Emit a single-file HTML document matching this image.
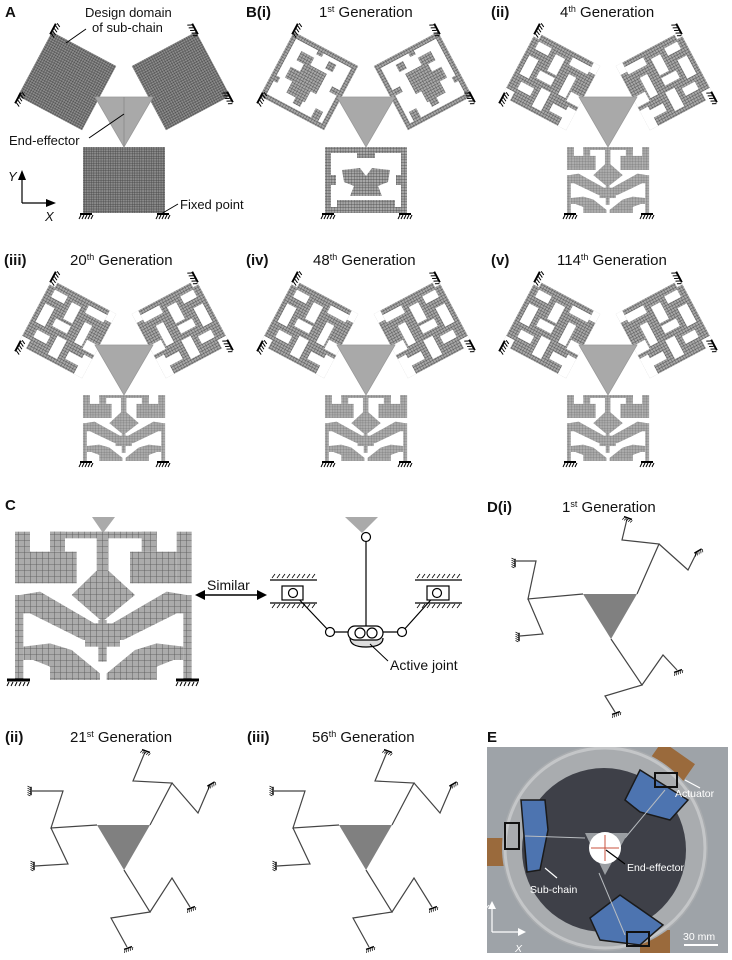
<!DOCTYPE html>
<html><head><meta charset="utf-8"><style>
html,body{margin:0;padding:0;background:#fff;}
svg{display:block;font-family:"Liberation Sans",Arial,sans-serif;}
.t{font-size:14px;fill:#111}
.b{font-weight:bold}
</style></head><body>
<svg width="732" height="960" viewBox="0 0 732 960" xmlns="http://www.w3.org/2000/svg">
<defs>
<pattern id="pA" patternUnits="userSpaceOnUse" width="2.4" height="2.4"><rect width="2.4" height="2.4" fill="#8a8a8a"/><path d="M0,0H2.4M0,0V2.4" stroke="#3a3a3a" stroke-width="0.7"/></pattern>
<pattern id="pM" patternUnits="userSpaceOnUse" width="2.8" height="2.8"><rect width="2.8" height="2.8" fill="#a6a6a6"/><path d="M0,0H2.8M0,0V2.8" stroke="#3a3a3a" stroke-width="0.6"/></pattern>
<pattern id="pC" patternUnits="userSpaceOnUse" width="18" height="18"><rect width="18" height="18" fill="#ababab"/><path d="M0,0H18M0,0V18" stroke="#555" stroke-width="2.6"/></pattern>
<g id="h"><line x1="-6" y1="0" x2="6" y2="0" stroke="#000" stroke-width="2"/><path d="M-5,1l-2,4M-2,1l-2,4M1,1l-2,4M4,1l-2,4M7,1l-2,4" stroke="#000" stroke-width="1"/></g>
<g id="cs" fill="url(#pC)">
<rect x="150" y="155" width="320" height="20"/><rect x="45" y="155" width="45" height="155"/><rect x="90" y="215" width="140" height="95"/><rect x="150" y="155" width="45" height="60"/>
<rect x="530" y="155" width="45" height="155"/><rect x="390" y="215" width="140" height="95"/><rect x="425" y="155" width="45" height="60"/>
<rect x="290" y="155" width="35" height="115"/><polygon points="307,255 405,345 307,425 215,345"/><rect x="295" y="420" width="25" height="125"/><rect x="255" y="430" width="105" height="70"/>
<polygon points="60,345 120,335 300,440 300,480 250,480 90,400 60,400"/><polygon points="560,345 500,335 320,440 320,480 370,480 530,400 560,400"/>
<rect x="45" y="345" width="25" height="255"/><rect x="550" y="345" width="25" height="255"/>
<polygon points="70,500 150,490 215,510 300,580 300,600 150,600 150,560 100,540 70,540"/><polygon points="550,500 470,490 405,510 320,580 320,600 470,600 470,560 520,540 550,540"/>
</g>
<g id="sqE"><rect x="-35" y="-35" width="70" height="70" fill="url(#pM)"/><rect x="-30" y="-30" width="60" height="60" fill="#fff"/>
<g fill="url(#pM)"><rect x="-20" y="-22" width="14" height="10"/><rect x="-12" y="-14" width="24" height="12"/><rect x="-22" y="-4" width="34" height="12"/><rect x="-14" y="8" width="20" height="12"/><rect x="8" y="-26" width="8" height="8"/><rect x="-6" y="-31" width="6" height="5"/><rect x="18" y="20" width="8" height="10"/><rect x="-31" y="10" width="5" height="6"/><rect x="22" y="-6" width="8" height="6"/><rect x="-4" y="18" width="8" height="8"/></g></g>
<g id="sqL"><rect x="-35" y="-35" width="70" height="70" fill="url(#pM)"/>
<g fill="#fff"><rect x="-28" y="-28" width="14" height="8"/><rect x="-8" y="-25" width="10" height="18"/><rect x="8" y="-30" width="20" height="8"/><rect x="-30" y="-12" width="10" height="20"/><rect x="-14" y="-4" width="16" height="8"/><rect x="12" y="-14" width="8" height="22"/><rect x="22" y="0" width="13" height="10"/><rect x="-25" y="14" width="14" height="8"/><rect x="-5" y="10" width="10" height="20"/><rect x="12" y="18" width="16" height="8"/><rect x="-35" y="26" width="9" height="9"/><rect x="28" y="-35" width="7" height="10"/><rect x="-35" y="-35" width="6" height="5"/><rect x="26" y="14" width="9" height="21"/></g></g>
<g id="tri"><polygon points="95,97 153,97 124,147" fill="#a9a9a9" stroke="#999" stroke-width="0.8"/></g>
<g id="anc">
<use href="#h" transform="translate(53,29) rotate(-62)"/><use href="#h" transform="translate(18,98) rotate(-62)"/>
<use href="#h" transform="translate(195,29) rotate(62)"/><use href="#h" transform="translate(230,97) rotate(62)"/>
<use href="#h" transform="translate(86,214)"/><use href="#h" transform="translate(163,214)"/></g>
<g id="mE"><g transform="translate(67,81) rotate(28) scale(1.04)"><use href="#sqE"/></g><g transform="translate(181,81) rotate(-28) scale(1.04) scale(-1,1)"><use href="#sqE"/></g>
<rect x="83" y="147" width="82" height="66" fill="url(#pM)"/><rect x="89" y="153" width="70" height="54" fill="#fff"/>
<g fill="url(#pM)"><polygon points="100,170 118,168 124,176 130,168 148,170 146,182 136,186 140,196 108,196 112,186 102,182"/><rect x="95" y="200" width="58" height="7"/><rect x="115" y="153" width="18" height="5"/><rect x="89" y="175" width="5" height="10"/><rect x="154" y="175" width="5" height="10"/></g>
<use href="#tri"/><use href="#anc"/></g>
<g id="mL"><g transform="translate(67,81) rotate(28) scale(1.04)"><use href="#sqL"/></g><g transform="translate(181,81) rotate(-28) scale(1.04) scale(-1,1)"><use href="#sqL"/></g>
<g transform="translate(76,124.06) scale(0.155,0.148)"><use href="#cs"/></g>
<use href="#tri"/><use href="#anc"/></g>
</defs>

<!-- Panel A -->
<text x="5" y="17" class="t b" style="font-size:15px">A</text>
<g transform="translate(67,81) rotate(28) scale(1.04)"><rect x="-35" y="-35" width="70" height="70" fill="url(#pA)"/></g>
<g transform="translate(181,81) rotate(-28) scale(1.04)"><rect x="-35" y="-35" width="70" height="70" fill="url(#pA)"/></g>
<rect x="83" y="147" width="82" height="66" fill="url(#pA)"/>
<use href="#tri"/><use href="#anc"/>
<line x1="124" y1="97" x2="124" y2="147" stroke="#777" stroke-width="0.5"/>
<text x="85" y="17" class="t" style="font-size:13px">Design domain</text>
<text x="92" y="32" class="t" style="font-size:13px">of sub-chain</text>
<line x1="66" y1="43" x2="86" y2="29" stroke="#000" stroke-width="1"/>
<text x="9" y="145" class="t" style="font-size:13px">End-effector</text>
<line x1="89" y1="138" x2="124" y2="114" stroke="#000" stroke-width="1"/>
<text x="180" y="209" class="t" style="font-size:13px">Fixed point</text>
<line x1="161" y1="214" x2="178" y2="204" stroke="#000" stroke-width="1"/>
<line x1="22" y1="203" x2="22" y2="178" stroke="#000" stroke-width="1.2"/><polygon points="22,170 18,180 26,180"/>
<line x1="22" y1="203" x2="48" y2="203" stroke="#000" stroke-width="1.2"/><polygon points="56,203 46,199 46,207"/>
<text x="8" y="181" class="t" style="font-size:13px;font-style:italic">Y</text>
<text x="45" y="221" class="t" style="font-size:13px;font-style:italic">X</text>

<!-- B row 1 -->
<text x="246" y="17" class="t b" style="font-size:15px">B(i)</text>
<text x="319" y="17" class="t" style="font-size:15px">1<tspan dy="-5" font-size="9">st</tspan><tspan dy="5"> Generation</tspan></text>
<use href="#mE" transform="translate(242,0)"/>
<text x="491" y="17" class="t b" style="font-size:15px">(ii)</text>
<text x="560" y="17" class="t" style="font-size:15px">4<tspan dy="-5" font-size="9">th</tspan><tspan dy="5"> Generation</tspan></text>
<use href="#mL" transform="translate(484,0)"/>

<!-- row 2 -->
<text x="4" y="265" class="t b" style="font-size:15px">(iii)</text>
<text x="70" y="265" class="t" style="font-size:15px">20<tspan dy="-5" font-size="9">th</tspan><tspan dy="5"> Generation</tspan></text>
<use href="#mL" transform="translate(0,248)"/>
<text x="246" y="265" class="t b" style="font-size:15px">(iv)</text>
<text x="313" y="265" class="t" style="font-size:15px">48<tspan dy="-5" font-size="9">th</tspan><tspan dy="5"> Generation</tspan></text>
<use href="#mL" transform="translate(242,248)"/>
<text x="491" y="265" class="t b" style="font-size:15px">(v)</text>
<text x="557" y="265" class="t" style="font-size:15px">114<tspan dy="-5" font-size="9">th</tspan><tspan dy="5"> Generation</tspan></text>
<use href="#mL" transform="translate(484,248)"/>

<!-- C -->
<text x="5" y="510" class="t b" style="font-size:15px">C</text>
<g transform="translate(0,480) scale(0.33333)"><use href="#cs"/></g>
<polygon points="92,517 115,517 103,533" fill="#aaa"/>
<line x1="7" y1="680" x2="30" y2="680" stroke="#000" stroke-width="3"/><path d="M9,682l-2,4M13,682l-2,4M17,682l-2,4M21,682l-2,4M25,682l-2,4M29,682l-2,4" stroke="#000"/>
<line x1="176" y1="680" x2="199" y2="680" stroke="#000" stroke-width="3"/><path d="M178,682l-2,4M182,682l-2,4M186,682l-2,4M190,682l-2,4M194,682l-2,4M198,682l-2,4" stroke="#000"/>
<text x="207" y="590" class="t" style="font-size:14px">Similar</text>
<line x1="202" y1="595" x2="260" y2="595" stroke="#000" stroke-width="1.5"/>
<polygon points="195,595 205,590 205,600"/><polygon points="267,595 257,590 257,600"/>
<!-- mechanism -->
<polygon points="345,517 378,517 362,533" fill="#aaa"/>
<g stroke="#000" stroke-width="1.2" fill="#fff">
<line x1="366" y1="537" x2="366" y2="633"/>
<line x1="293" y1="593" x2="330" y2="632"/><line x1="437" y1="593" x2="402" y2="632"/>
<line x1="330" y1="632" x2="402" y2="632"/>
<line x1="270" y1="580" x2="317" y2="580"/><line x1="270" y1="603" x2="317" y2="603"/>
<line x1="415" y1="580" x2="462" y2="580"/><line x1="415" y1="603" x2="462" y2="603"/>
<rect x="282" y="586" width="21" height="14"/><rect x="427" y="586" width="22" height="14"/>
<path d="M350,638 q0,9 16,9 q17,0 17,-9" fill="#ddd"/>
<rect x="348" y="626" width="35" height="14" rx="7"/>
<circle cx="366" cy="537" r="4.5"/><circle cx="293" cy="593" r="4.5"/><circle cx="437" cy="593" r="4.5"/>
<circle cx="330" cy="632" r="4.5"/><circle cx="402" cy="632" r="4.5"/><circle cx="360" cy="633" r="5"/><circle cx="372" cy="633" r="5"/>
</g>
<path d="M272,578l3,-4M277,578l3,-4M282,578l3,-4M287,578l3,-4M292,578l3,-4M297,578l3,-4M302,578l3,-4M307,578l3,-4M312,578l3,-4M272,608l3,-4M277,608l3,-4M282,608l3,-4M287,608l3,-4M292,608l3,-4M297,608l3,-4M302,608l3,-4M307,608l3,-4M312,608l3,-4M417,578l3,-4M422,578l3,-4M427,578l3,-4M432,578l3,-4M437,578l3,-4M442,578l3,-4M447,578l3,-4M452,578l3,-4M457,578l3,-4M417,608l3,-4M422,608l3,-4M427,608l3,-4M432,608l3,-4M437,608l3,-4M442,608l3,-4M447,608l3,-4M452,608l3,-4M457,608l3,-4" stroke="#000" stroke-width="0.8"/>
<line x1="370" y1="644" x2="388" y2="661" stroke="#000"/>
<text x="390" y="670" class="t" style="font-size:14px">Active joint</text>

<!-- D(i) -->
<text x="487" y="512" class="t b" style="font-size:15px">D(i)</text>
<text x="562" y="512" class="t" style="font-size:15px">1<tspan dy="-5" font-size="9">st</tspan><tspan dy="5"> Generation</tspan></text>
<polygon points="583,594 637,594 611,639" fill="#808080"/>
<g fill="none" stroke="#444" stroke-width="1.2">
<polyline points="583,594 528,599 536,561 516,561"/><polyline points="528,599 543,634 520,636"/>
<polyline points="637,594 659,544 622,540 627,519"/><polyline points="659,544 688,570 697,552"/>
<polyline points="611,639 642,685 605,696 615,712"/><polyline points="642,685 663,655 677,670"/>
</g>
<use href="#h" transform="translate(515,563) rotate(90) scale(0.7)"/><use href="#h" transform="translate(519,637) rotate(90) scale(0.7)"/>
<use href="#h" transform="translate(628,518) rotate(20) scale(0.7)"/><use href="#h" transform="translate(698,551) rotate(-30) scale(0.7)"/>
<use href="#h" transform="translate(616,713) rotate(-20) scale(0.7)"/><use href="#h" transform="translate(678,671) rotate(-20) scale(0.7)"/>

<!-- D(ii),(iii) -->
<g id="d2">
<polygon points="97,825 150,825 124,870" fill="#808080"/>
<g fill="none" stroke="#444" stroke-width="1.2">
<polyline points="97,825 51,828 63,791 32,791"/><polyline points="51,828 68,864 35,866"/>
<polyline points="150,825 172,783 133,781 145,752"/><polyline points="172,783 198,813 210,785"/>
<polyline points="124,870 150,912 111,918 127,947"/><polyline points="150,912 172,878 190,907"/>
</g>
<use href="#h" transform="translate(31,791) rotate(90) scale(0.7)"/><use href="#h" transform="translate(34,866) rotate(90) scale(0.7)"/>
<use href="#h" transform="translate(146,751) rotate(20) scale(0.7)"/><use href="#h" transform="translate(211,784) rotate(-30) scale(0.7)"/>
<use href="#h" transform="translate(128,948) rotate(-20) scale(0.7)"/><use href="#h" transform="translate(191,908) rotate(-20) scale(0.7)"/>
</g>
<text x="5" y="742" class="t b" style="font-size:15px">(ii)</text>
<text x="70" y="742" class="t" style="font-size:15px">21<tspan dy="-5" font-size="9">st</tspan><tspan dy="5"> Generation</tspan></text>
<use href="#d2" transform="translate(242,0)"/>
<text x="247" y="742" class="t b" style="font-size:15px">(iii)</text>
<text x="312" y="742" class="t" style="font-size:15px">56<tspan dy="-5" font-size="9">th</tspan><tspan dy="5"> Generation</tspan></text>

<!-- E -->
<text x="487" y="742" class="t b" style="font-size:15px">E</text>
<clipPath id="ce"><rect x="487" y="747" width="241" height="206"/></clipPath>
<g clip-path="url(#ce)">
<rect x="487" y="747" width="241" height="206" fill="#9ea3a8"/>
<rect x="487" y="838" width="18" height="28" fill="#9a6a3c"/>
<rect x="650" y="750" width="40" height="30" fill="#9a6a3c" transform="rotate(35 670 765)"/>
<rect x="640" y="930" width="30" height="25" fill="#9a6a3c"/>
<circle cx="605" cy="848" r="103" fill="#a9acaf"/>
<circle cx="605" cy="848" r="100" fill="none" stroke="#c4c6c8" stroke-width="3"/>
<circle cx="604" cy="850" r="82" fill="#3e4048"/>
<g fill="#4d74b0" stroke="#1a1a1a" stroke-width="1.5">
<polygon points="521,800 545,800 548,830 540,870 527,872"/>
<polygon points="625,800 640,770 688,800 670,820 640,812"/>
<polygon points="590,918 620,895 663,925 640,945 600,940"/>
</g>
<rect x="505" y="823" width="14" height="26" fill="none" stroke="#111" stroke-width="2"/>
<rect x="655" y="773" width="22" height="14" fill="none" stroke="#111" stroke-width="2"/>
<rect x="627" y="932" width="22" height="14" fill="none" stroke="#111" stroke-width="2"/>
<g stroke="#b8bcc0" stroke-width="1"><line x1="525" y1="836" x2="585" y2="838"/><line x1="625" y1="838" x2="665" y2="790"/><line x1="599" y1="873" x2="625" y2="935"/></g>
<polygon points="585,833 628,833 605,875" fill="#9a9ea2"/>
<circle cx="605" cy="848" r="16" fill="#fff"/>
<line x1="591" y1="848" x2="619" y2="848" stroke="#c8503c" stroke-width="1"/><line x1="605" y1="835" x2="605" y2="861" stroke="#c8503c" stroke-width="1"/>
<line x1="606" y1="850" x2="625" y2="864" stroke="#000" stroke-width="1.2"/>
<line x1="545" y1="868" x2="557" y2="878" stroke="#fff" stroke-width="1.2"/>
<line x1="685" y1="780" x2="700" y2="788" stroke="#fff" stroke-width="1.2"/>
<text x="675" y="797" fill="#fff" style="font-size:10.5px">Actuator</text>
<text x="627" y="871" fill="#fff" style="font-size:10.5px">End-effector</text>
<text x="530" y="893" fill="#fff" style="font-size:10.5px">Sub-chain</text>
<text x="683" y="940" fill="#fff" style="font-size:10.5px">30 mm</text>
<line x1="684" y1="945" x2="718" y2="945" stroke="#fff" stroke-width="2"/>
<line x1="492" y1="932" x2="492" y2="906" stroke="#fff" stroke-width="1.2"/><polygon points="492,901 488,909 496,909" fill="#fff"/>
<line x1="492" y1="932" x2="520" y2="932" stroke="#fff" stroke-width="1.2"/><polygon points="526,932 518,928 518,936" fill="#fff"/>
<text x="482" y="912" fill="#fff" style="font-size:10.5px;font-style:italic">Y</text>
<text x="515" y="952" fill="#fff" style="font-size:10.5px;font-style:italic">X</text>
</g>
</svg>
</body></html>
